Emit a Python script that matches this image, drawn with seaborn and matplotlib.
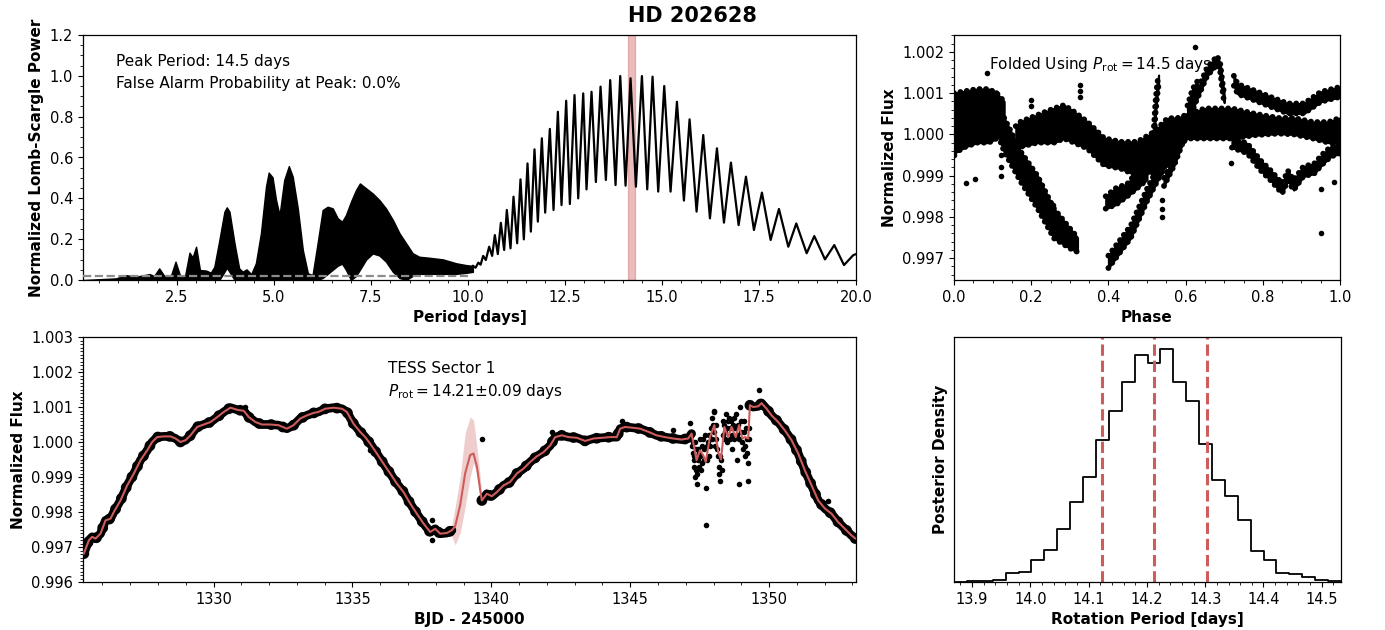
import numpy as np
import pandas as pd
import matplotlib
matplotlib.use("Agg")
import matplotlib.pyplot as plt
import seaborn as sns
from matplotlib.ticker import MultipleLocator, FormatStrFormatter

# ---------------- data ----------------
title_text = "HD 202628"

# Periodogram, short periods: dense sidelobe region given as envelope
env_period = [0.10, 0.94, 1.19, 1.45, 1.80, 1.92, 2.05, 2.18, 2.35, 2.47, 2.59, 2.72, 2.83, 2.91, 3.00,
              3.10, 3.26, 3.38, 3.47, 3.60, 3.73, 3.79, 3.86, 3.99, 4.11, 4.20, 4.30, 4.42, 4.54, 4.67,
              4.80, 4.87, 4.97, 5.06, 5.15, 5.27, 5.39, 5.49, 5.62, 5.75, 5.88, 6.00, 6.13, 6.26, 6.39,
              6.52, 6.65, 6.76, 6.86, 6.99, 7.12, 7.22, 7.38, 7.55, 7.72, 7.89, 8.07, 8.24, 8.41, 8.58,
              8.75, 9.01, 9.36, 9.70, 9.96, 10.13]
env_upper = [0.0, 0.008, 0.024, 0.016, 0.029, 0.02, 0.057, 0.02, 0.02, 0.09, 0.02, 0.024, 0.134, 0.111, 0.163,
             0.049, 0.046, 0.036, 0.065, 0.196, 0.335, 0.356, 0.335, 0.18, 0.057, 0.041, 0.052, 0.029, 0.082, 0.229,
             0.457, 0.526, 0.503, 0.392, 0.318, 0.49, 0.558, 0.506, 0.351, 0.147, 0.033, 0.024, 0.18, 0.343, 0.359,
             0.351, 0.302, 0.286, 0.318, 0.384, 0.441, 0.473, 0.449, 0.424, 0.392, 0.351, 0.294, 0.229, 0.18, 0.131,
             0.114, 0.109, 0.101, 0.082, 0.073, 0.069]
env_lower = [0.0, 0.0, 0.0, 0.0, 0.0, 0.0, 0.0, 0.0, 0.0, 0.0, 0.0, 0.0, 0.0, 0.0, 0.0,
             0.0, 0.0, 0.0, 0.0, 0.0, 0.04, 0.06, 0.04, 0.0, 0.0, 0.0, 0.0, 0.0, 0.0, 0.0,
             0.0, 0.0, 0.0, 0.0, 0.0, 0.0, 0.0, 0.0, 0.0, 0.0, 0.0, 0.0, 0.0, 0.01, 0.03,
             0.05, 0.07, 0.08, 0.05, 0.0, 0.02, 0.05, 0.10, 0.13, 0.12, 0.09, 0.04, 0.01, 0.0, 0.02,
             0.03, 0.03, 0.03, 0.03, 0.035, 0.04]

# Periodogram, long periods: resolved peaks and troughs
ls_period = [10.05, 10.13, 10.20, 10.27, 10.33,
             10.395, 10.464, 10.550, 10.627, 10.696, 10.773, 10.851, 10.936, 11.005, 11.100,
             11.177, 11.271, 11.357, 11.443, 11.538, 11.624, 11.718, 11.804, 11.907, 11.993,
             12.113, 12.208, 12.320, 12.414, 12.534, 12.629, 12.749, 12.844, 12.973, 13.058,
             13.187, 13.299, 13.419, 13.557, 13.668, 13.806, 13.926, 14.064, 14.192, 14.330,
             14.485, 14.622, 14.759, 14.905, 15.060, 15.223, 15.387, 15.567, 15.713, 15.893,
             16.065, 16.237, 16.418, 16.598, 16.778, 16.976, 17.165, 17.371, 17.577, 17.801,
             18.015, 18.256, 18.462, 18.729, 18.926, 19.201, 19.441, 19.691, 19.931, 20.0]
ls_power = [0.05, 0.07, 0.06, 0.085, 0.075,
            0.118, 0.098, 0.163, 0.118, 0.22, 0.127, 0.28, 0.147, 0.343, 0.155,
            0.408, 0.18, 0.493, 0.199, 0.571, 0.237, 0.64, 0.286, 0.694, 0.33,
            0.74, 0.343, 0.824, 0.367, 0.878, 0.372, 0.906, 0.40, 0.914, 0.444,
            0.922, 0.48, 0.947, 0.49, 0.979, 0.465, 0.999, 0.462, 0.988, 0.457,
            0.999, 0.444, 0.996, 0.433, 0.95, 0.433, 0.873, 0.389, 0.787, 0.335,
            0.71, 0.302, 0.645, 0.281, 0.575, 0.269, 0.506, 0.245, 0.428, 0.196,
            0.348, 0.163, 0.277, 0.131, 0.215, 0.101, 0.171, 0.073, 0.122, 0.127]
fap_level = 0.0196
fap_period_range = [0.087, 10.0]
peak_text = ["Peak Period: 14.5 days", "False Alarm Probability at Peak: 0.0%"]

# Posterior of rotation period
post_lo, post_hi, post_nbins = 13.869, 14.533, 30
post_heights = [0, 2, 4, 6, 27, 29, 66, 96, 159, 240, 315, 425, 512, 598, 680,
                657, 699, 600, 542, 413, 306, 258, 187, 92, 67, 27, 24, 14, 7, 4]
post_percentiles = [14.123, 14.213, 14.303]

# Light curve (TESS Sector 1)
lc_time_1 = [1325.33, 1325.51, 1325.63, 1325.75, 1325.93, 1326.11, 1326.29, 1326.41, 1326.65, 1326.89,
             1327.13, 1327.37, 1327.61, 1327.79, 1327.97, 1328.21, 1328.45, 1328.63, 1328.81, 1328.99,
             1329.17, 1329.41, 1329.65, 1329.89, 1330.13, 1330.37, 1330.61, 1330.85, 1331.09, 1331.27,
             1331.51, 1331.74, 1332.04, 1332.34, 1332.64, 1332.88, 1333.12, 1333.36, 1333.60, 1333.78,
             1334.02, 1334.32, 1334.62, 1334.80, 1335.04, 1335.28, 1335.46, 1335.64, 1335.88, 1336.12,
             1336.36, 1336.60, 1336.84, 1337.08, 1337.32, 1337.56, 1337.80, 1337.98, 1338.16, 1338.40,
             1338.58]
lc_flux_1 = [0.99681, 0.99719, 0.99729, 0.99724, 0.99738, 0.99776, 0.99781, 0.99800, 0.99833, 0.99876,
             0.99910, 0.99948, 0.99976, 1.00000, 1.00014, 1.00016, 1.00016, 1.00010, 1.00000, 1.00005,
             1.00019, 1.00043, 1.00050, 1.00057, 1.00071, 1.00086, 1.00098, 1.00092, 1.00089, 1.00071,
             1.00057, 1.00050, 1.00050, 1.00048, 1.00038, 1.00048, 1.00067, 1.00076, 1.00083, 1.00086,
             1.00095, 1.00098, 1.00095, 1.00086, 1.00052, 1.00029, 1.00014, 0.99995, 0.99967, 0.99938,
             0.99910, 0.99881, 0.99857, 0.99824, 0.99795, 0.99767, 0.99743, 0.99752, 0.99738, 0.99740,
             0.99748]
lc_time_2 = [1339.66, 1339.84, 1340.02, 1340.20, 1340.44, 1340.68, 1340.92, 1341.16, 1341.40, 1341.64,
             1341.88, 1342.12, 1342.30, 1342.54, 1342.78, 1343.08, 1343.38, 1343.68, 1343.98, 1344.28,
             1344.52, 1344.64, 1344.82, 1345.06, 1345.36, 1345.66, 1345.95, 1346.25, 1346.55, 1346.85,
             1347.09, 1347.21]
lc_flux_2 = [0.99833, 0.99852, 0.99845, 0.99857, 0.99876, 0.99886, 0.99910, 0.99924, 0.99943, 0.99959,
             0.99971, 0.99990, 1.00014, 1.00019, 1.00014, 1.00012, 1.00003, 1.00010, 1.00012, 1.00014,
             1.00014, 1.00038, 1.00043, 1.00041, 1.00038, 1.00029, 1.00019, 1.00014, 1.00010, 1.00007,
             1.00010, 1.00024]
lc_time_4 = [1349.31, 1349.43, 1349.61, 1349.73, 1349.91, 1350.09, 1350.33, 1350.57, 1350.81, 1351.05,
             1351.29, 1351.53, 1351.77, 1352.01, 1352.25, 1352.49, 1352.73, 1352.97, 1353.11]
lc_flux_4 = [1.00105, 1.00100, 1.00102, 1.00111, 1.00095, 1.00076, 1.00057, 1.00033, 1.00005, 0.99967,
             0.99919, 0.99876, 0.99833, 0.99810, 0.99795, 0.99771, 0.99752, 0.99733, 0.99724]
# noisy stretch: individual points and GP model
noisy_time = [1347.20, 1347.25, 1347.30, 1347.33, 1347.38, 1347.40, 1347.45, 1347.50, 1347.55, 1347.60,
              1347.65, 1347.70, 1347.72, 1347.72, 1347.80, 1347.85, 1347.90, 1347.95, 1348.00, 1348.05,
              1348.10, 1348.15, 1348.20, 1348.25, 1348.30, 1348.35, 1348.40, 1348.45, 1348.50, 1348.55,
              1348.60, 1348.65, 1348.70, 1348.75, 1348.80, 1348.85, 1348.90, 1348.95, 1349.00, 1349.05,
              1349.10, 1349.15, 1349.20, 1349.23, 1349.25, 1349.28, 1347.28, 1347.35, 1347.42, 1347.48,
              1347.22, 1347.27, 1347.31, 1347.36, 1347.43, 1347.47, 1347.53, 1347.58, 1347.62, 1347.67,
              1347.75, 1347.78, 1347.83, 1347.88, 1347.93, 1347.98, 1348.02, 1348.08, 1348.12, 1348.18,
              1348.22, 1348.28, 1348.33, 1348.38, 1348.42, 1348.48, 1348.52, 1348.58, 1348.62, 1348.68,
              1348.72, 1348.78, 1348.83, 1348.88, 1348.93, 1348.98, 1349.03, 1349.08, 1349.12, 1349.18,
              1349.22, 1349.27]
noisy_flux = [1.0002, 0.9997, 0.9993, 0.9990, 0.9998, 0.9988, 0.9995, 1.0001, 0.9992, 0.9999,
              0.9995, 1.0002, 0.9987, 0.99762, 1.0000, 0.9996, 1.0004, 1.0007, 1.0009, 0.9999,
              1.0005, 0.9996, 0.9993, 0.9989, 0.9992, 1.0006, 1.0003, 1.0008, 1.0000, 1.0007,
              1.0004, 0.9998, 1.0005, 1.0001, 1.0008, 0.9995, 0.9988, 1.0010, 1.0003, 0.9998,
              1.0006, 0.9996, 1.0001, 0.9989, 0.9994, 1.0004, 0.9995, 1.0000, 0.9991, 0.9997,
              0.9999, 1.0000, 0.9996, 0.9992, 0.9998, 0.9993, 0.9996, 0.9994, 1.0001, 0.9998,
              0.9995, 0.9999, 1.0002, 0.9999, 1.0001, 1.0005, 1.0003, 1.0001, 0.9998, 0.9991,
              0.9996, 0.9995, 1.0002, 1.0005, 1.0001, 1.0004, 1.0006, 1.0001, 1.0006, 1.0002,
              1.0007, 1.0004, 1.0002, 1.0005, 1.0001, 1.0006, 1.0000, 1.0003, 0.9999, 1.0004,
              0.9997, 1.0001]
model_time_3 = [1347.21, 1347.39, 1347.51, 1347.63, 1347.72, 1347.87, 1348.03, 1348.17, 1348.27, 1348.39,
                1348.53, 1348.65, 1348.80, 1348.92, 1349.04, 1349.13, 1349.25, 1349.31]
model_flux_3 = [1.00024, 0.99948, 0.99976, 0.99962, 0.99943, 1.00014, 1.00048, 0.99971, 0.99950, 1.00043,
                1.00014, 1.00043, 1.00014, 1.00048, 1.00010, 1.00014, 1.00010, 1.00105]
# GP prediction across the data gap
gap_time = [1338.58, 1338.70, 1338.88, 1339.06, 1339.24, 1339.36, 1339.48, 1339.60, 1339.66]
gap_mean = [0.99748, 0.99760, 0.99820, 0.99911, 0.99963, 0.99967, 0.99930, 0.99863, 0.99833]
gap_upper = [0.99765, 0.99815, 0.99901, 1.00026, 1.00071, 1.00063, 0.99987, 0.99901, 0.99840]
gap_lower = [0.99730, 0.99706, 0.99740, 0.99815, 0.99901, 0.99940, 0.99911, 0.99854, 0.99826]
lc_out_time = [1335.62, 1337.86, 1337.86, 1339.66, 1342.20, 1346.55, 1347.15, 1348.00, 1349.64, 1352.13,
               1344.70, 1331.15]
lc_out_flux = [0.99976, 0.99719, 0.99776, 1.00008, 1.00029, 1.00035, 1.00055, 1.00086, 1.00150, 0.99831,
               1.00060, 1.00099]
lc_text = ["TESS Sector 1", r"$P_{\rm rot} = $14.21$\pm$0.09 days"]

# Phase-folded light curve (P = 14.5 d): point bands (phase, lower, upper)
fold_a = ([0.0, 0.03, 0.06, 0.09, 0.11, 0.13],
          [0.99954, 0.9997, 0.9998, 0.9998, 0.9999, 1.0003],
          [1.0010, 1.00105, 1.0011, 1.0011, 1.0010, 1.0008])
fold_b = ([0.11, 0.13, 0.173, 0.216, 0.259, 0.302, 0.32],
          [1.0001, 0.99958, 0.99885, 0.99821, 0.99748, 0.99723, 0.99715],
          [1.0010, 1.0004, 0.99958, 0.9990, 0.9982, 0.9977, 0.9975])
fold_c = ([0.16, 0.173, 0.216, 0.259, 0.285, 0.311, 0.345, 0.389, 0.432, 0.475, 0.518, 0.553, 0.58],
          [0.9997, 0.9997, 0.9998, 0.9998, 0.9999, 0.9998, 0.99966, 0.99925, 0.99917, 0.999, 0.99909,
           0.9993, 0.9996],
          [1.0002, 1.00031, 1.00047, 1.00063, 1.00071, 1.00055, 1.00031, 0.99991, 0.99982, 0.99982, 1.00006,
           1.00039, 1.0004])
fold_d = ([0.393, 0.42, 0.449, 0.475, 0.50],
          [0.9982, 0.9983, 0.9985, 0.9987, 0.9989],
          [0.9985, 0.9987, 0.9988, 0.9991, 0.9993])
fold_e = ([0.40, 0.458, 0.50, 0.553, 0.596, 0.62],
          [0.99676, 0.99749, 0.99838, 0.99935, 0.99983, 1.00005],
          [0.99706, 0.99779, 0.99868, 0.99965, 1.00013, 1.00035])
fold_f = ([0.544, 0.57, 0.596, 0.622, 0.656, 0.682, 0.69, 0.695, 0.70],
          [0.99875, 0.99924, 0.99988, 1.00069, 1.00142, 1.0017, 1.0015, 1.0011, 1.00077],
          [0.99895, 0.99944, 1.00008, 1.00089, 1.00162, 1.0019, 1.0017, 1.0013, 1.00097])
fold_g = ([0.518, 0.522, 0.526, 0.53],
          [0.9999, 1.0005, 1.0009, 1.0012],
          [1.0002, 1.0008, 1.0012, 1.00144])
fold_g2 = ([0.605, 0.618, 0.63],
           [1.00045, 1.0008, 1.0011],
           [1.0007, 1.0011, 1.00128])
fold_h = ([0.58, 0.65, 0.72, 0.78, 0.84, 0.88, 0.93, 0.97, 1.0],
          [0.9999, 0.9999, 0.9999, 0.99998, 1.00002, 1.0, 0.9999, 0.9998, 0.9998],
          [1.0004, 1.00063, 1.00063, 1.0005, 1.0004, 1.0004, 1.0003, 1.0003, 1.0004])
fold_i = ([0.725, 0.735, 0.777, 0.82, 0.864, 0.907, 0.95, 1.0],
          [1.00118, 1.00098, 1.00083, 1.00067, 1.00051, 1.00051, 1.00079, 1.00091],
          [1.00142, 1.00122, 1.00107, 1.00091, 1.00075, 1.00075, 1.00103, 1.00115])
fold_j = ([0.72, 0.76, 0.794, 0.82, 0.85, 0.865, 0.88, 0.905, 0.933, 0.955, 0.976, 1.0],
          [0.99968, 0.99954, 0.99913, 0.99889, 0.99857, 0.99888, 0.99865, 0.99898, 0.99905, 0.99928,
           0.99946, 0.99954],
          [0.99992, 0.99978, 0.99937, 0.99913, 0.99881, 0.99912, 0.99889, 0.99922, 0.99929, 0.99952,
           0.9997, 0.99978])
fold_out_phase = [0.03, 0.054, 0.085, 0.121, 0.121, 0.121, 0.20, 0.20, 0.257, 0.326, 0.326,
                  0.326, 0.54, 0.54, 0.54, 0.624, 0.717, 0.952, 0.952, 0.984, 0.0]
fold_out_flux = [0.99881, 0.99891, 1.0015, 0.9995, 0.9992, 0.9990, 1.00083, 1.0007, 0.9983,
                 1.0012, 1.00105, 1.0009, 0.9984, 0.9982, 0.9980, 1.00213, 0.9993, 0.99867, 0.99760,
                 0.99885, 0.9995]
fold_text = r"Folded Using $P_{\rm rot} = 14.5$ days"

# ---------------- style ----------------
sns.set_theme(style="ticks")
plt.rcParams.update({
    "font.family": ["DejaVu Sans"],
    "font.size": 10.5,
    "axes.labelsize": 11,
    "axes.labelweight": "bold",
    "xtick.labelsize": 10.5,
    "ytick.labelsize": 10.5,
    "axes.edgecolor": "black",
    "axes.linewidth": 0.9,
    "xtick.color": "black", "ytick.color": "black",
    "axes.labelcolor": "black", "text.color": "black",
    "xtick.major.size": 3.5, "ytick.major.size": 3.5,
    "xtick.minor.size": 2.0, "ytick.minor.size": 2.0,
    "xtick.major.width": 0.8, "ytick.major.width": 0.8,
    "xtick.minor.width": 0.6, "ytick.minor.width": 0.6,
    "xtick.direction": "out", "ytick.direction": "out",
    "mathtext.fontset": "dejavusans",
})
red = "indianred"
bead = dict(color="black", ls=(0, (0.01, 1.1)), dash_capstyle="round")

W, H = 1385, 630
fig = plt.figure(figsize=(W / 100, H / 100), dpi=100)


def box(x0, x1, y0, y1):
    return [x0 / W, 1 - y1 / H, (x1 - x0) / W, (y1 - y0) / H]


ax_ls = fig.add_axes(box(83, 856, 35, 280))
ax_fold = fig.add_axes(box(954, 1340, 35, 280))
ax_lc = fig.add_axes(box(83, 856, 337, 582))
ax_post = fig.add_axes(box(954, 1341, 337, 582))

# ---- periodogram ----
ax = ax_ls
ax.axvspan(post_percentiles[0], post_percentiles[2], color=red, alpha=0.4, zorder=1)
ax.fill_between(env_period, env_lower, env_upper, color="black", lw=1.0, zorder=2)
sns.lineplot(x=ls_period, y=ls_power, ax=ax, color="black", lw=1.6, sort=False,
             estimator=None, zorder=3)
ax.hlines(fap_level, fap_period_range[0], fap_period_range[1], colors="#8c8c8c",
          linestyles="--", lw=1.6, zorder=4)
ax.set_xlim(0.087, 20)
ax.set_ylim(0, 1.2)
ax.xaxis.set_major_locator(MultipleLocator(2.5))
ax.xaxis.set_minor_locator(MultipleLocator(0.5))
ax.yaxis.set_major_locator(MultipleLocator(0.2))
ax.yaxis.set_minor_locator(MultipleLocator(0.05))
ax.xaxis.set_major_formatter(FormatStrFormatter("%.1f"))
ax.yaxis.set_major_formatter(FormatStrFormatter("%.1f"))
ax.set_xlabel("Period [days]")
ax.set_ylabel("Normalized Lomb-Scargle Power")
ax.text(0.043, 0.89, peak_text[0], transform=ax.transAxes, fontsize=11, va="center")
ax.text(0.043, 0.804, peak_text[1], transform=ax.transAxes, fontsize=11, va="center")

# ---- folded ----
ax = ax_fold
for ph, lo, hi in [fold_a, fold_b, fold_c, fold_d, fold_e, fold_f, fold_g, fold_g2, fold_h, fold_i, fold_j]:
    ax.fill_between(ph, lo, hi, color="black", lw=1.5, zorder=2)
    ax.plot(ph, hi, lw=4.2, zorder=2, **bead)
    ax.plot(ph, lo, lw=4.2, zorder=2, **bead)
sns.scatterplot(x=fold_out_phase, y=fold_out_flux, ax=ax, color="black", s=16, linewidth=0, zorder=3)
ax.set_xlim(0, 1)
ax.set_ylim(0.99647, 1.00241)
ax.xaxis.set_major_locator(MultipleLocator(0.2))
ax.xaxis.set_minor_locator(MultipleLocator(0.05))
ax.yaxis.set_major_locator(MultipleLocator(0.001))
ax.yaxis.set_minor_locator(MultipleLocator(0.0002))
ax.xaxis.set_major_formatter(FormatStrFormatter("%.1f"))
ax.yaxis.set_major_formatter(FormatStrFormatter("%.3f"))
ax.set_xlabel("Phase")
ax.set_ylabel("Normalized Flux")
ax.text(0.091, 0.878, fold_text, transform=ax.transAxes, fontsize=11, va="center", zorder=5)

# ---- light curve ----
ax = ax_lc
ax.fill_between(gap_time, gap_lower, gap_upper, color=red, alpha=0.3, lw=0, zorder=1)
for t, f in [(lc_time_1, lc_flux_1), (lc_time_2, lc_flux_2), (lc_time_4, lc_flux_4)]:
    sns.lineplot(x=t, y=f, ax=ax, color="black", lw=6.3, sort=False, estimator=None,
                 solid_capstyle="round", solid_joinstyle="round", zorder=2)
    ax.plot(t, f, lw=7.8, zorder=2, **bead)
    sns.scatterplot(x=t, y=f, ax=ax, color="black", s=16, linewidth=0, zorder=2)
sns.scatterplot(x=noisy_time, y=noisy_flux, ax=ax, color="black", s=16, linewidth=0, zorder=2)
sns.scatterplot(x=lc_out_time, y=lc_out_flux, ax=ax, color="black", s=16, linewidth=0, zorder=2)
model_t = np.concatenate([lc_time_1, gap_time[1:-1], lc_time_2, model_time_3[1:], lc_time_4[1:]])
model_f = np.concatenate([lc_flux_1, gap_mean[1:-1], lc_flux_2, model_flux_3[1:], lc_flux_4[1:]])
sns.lineplot(x=model_t, y=model_f, ax=ax, color=red, lw=1.5, sort=False, estimator=None, zorder=3)
ax.set_xlim(1325.30, 1353.13)
ax.set_ylim(0.996, 1.003)
ax.xaxis.set_major_locator(MultipleLocator(5))
ax.xaxis.set_minor_locator(MultipleLocator(1))
ax.yaxis.set_major_locator(MultipleLocator(0.001))
ax.yaxis.set_minor_locator(MultipleLocator(0.0001))
ax.xaxis.set_major_formatter(FormatStrFormatter("%d"))
ax.yaxis.set_major_formatter(FormatStrFormatter("%.3f"))
ax.set_xlabel("BJD - 245000")
ax.set_ylabel("Normalized Flux")
ax.text(0.395, 0.873, lc_text[0], transform=ax.transAxes, fontsize=11, va="center")
ax.text(0.395, 0.776, lc_text[1], transform=ax.transAxes, fontsize=11, va="center")

# ---- posterior ----
ax = ax_post
bin_w = (post_hi - post_lo) / post_nbins
post_df = pd.DataFrame({
    "period": post_lo + bin_w * (np.arange(post_nbins) + 0.5),
    "density": post_heights,
})
sns.histplot(data=post_df, x="period", weights="density", bins=post_nbins,
             binrange=(post_lo, post_hi), element="step", fill=False,
             color="black", lw=1.3, ax=ax)
for v in post_percentiles:
    ax.axvline(v, color=red, ls="--", lw=2.2)
ax.set_xlim(post_lo, post_hi)
ax.set_ylim(0, max(post_heights) * 1.05)
ax.set_yticks([])
ax.xaxis.set_major_locator(MultipleLocator(0.1))
ax.xaxis.set_minor_locator(MultipleLocator(0.02))
ax.xaxis.set_major_formatter(FormatStrFormatter("%.1f"))
ax.set_xlabel("Rotation Period [days]")
ax.set_ylabel("Posterior Density")

for a in [ax_ls, ax_fold, ax_lc, ax_post]:
    for s in a.spines.values():
        s.set_visible(True)
        s.set_color("black")

fig.suptitle(title_text, fontsize=15, fontweight="bold", x=0.5, y=1 - 16 / H, va="center")

fig.savefig("out.png", dpi=100)
